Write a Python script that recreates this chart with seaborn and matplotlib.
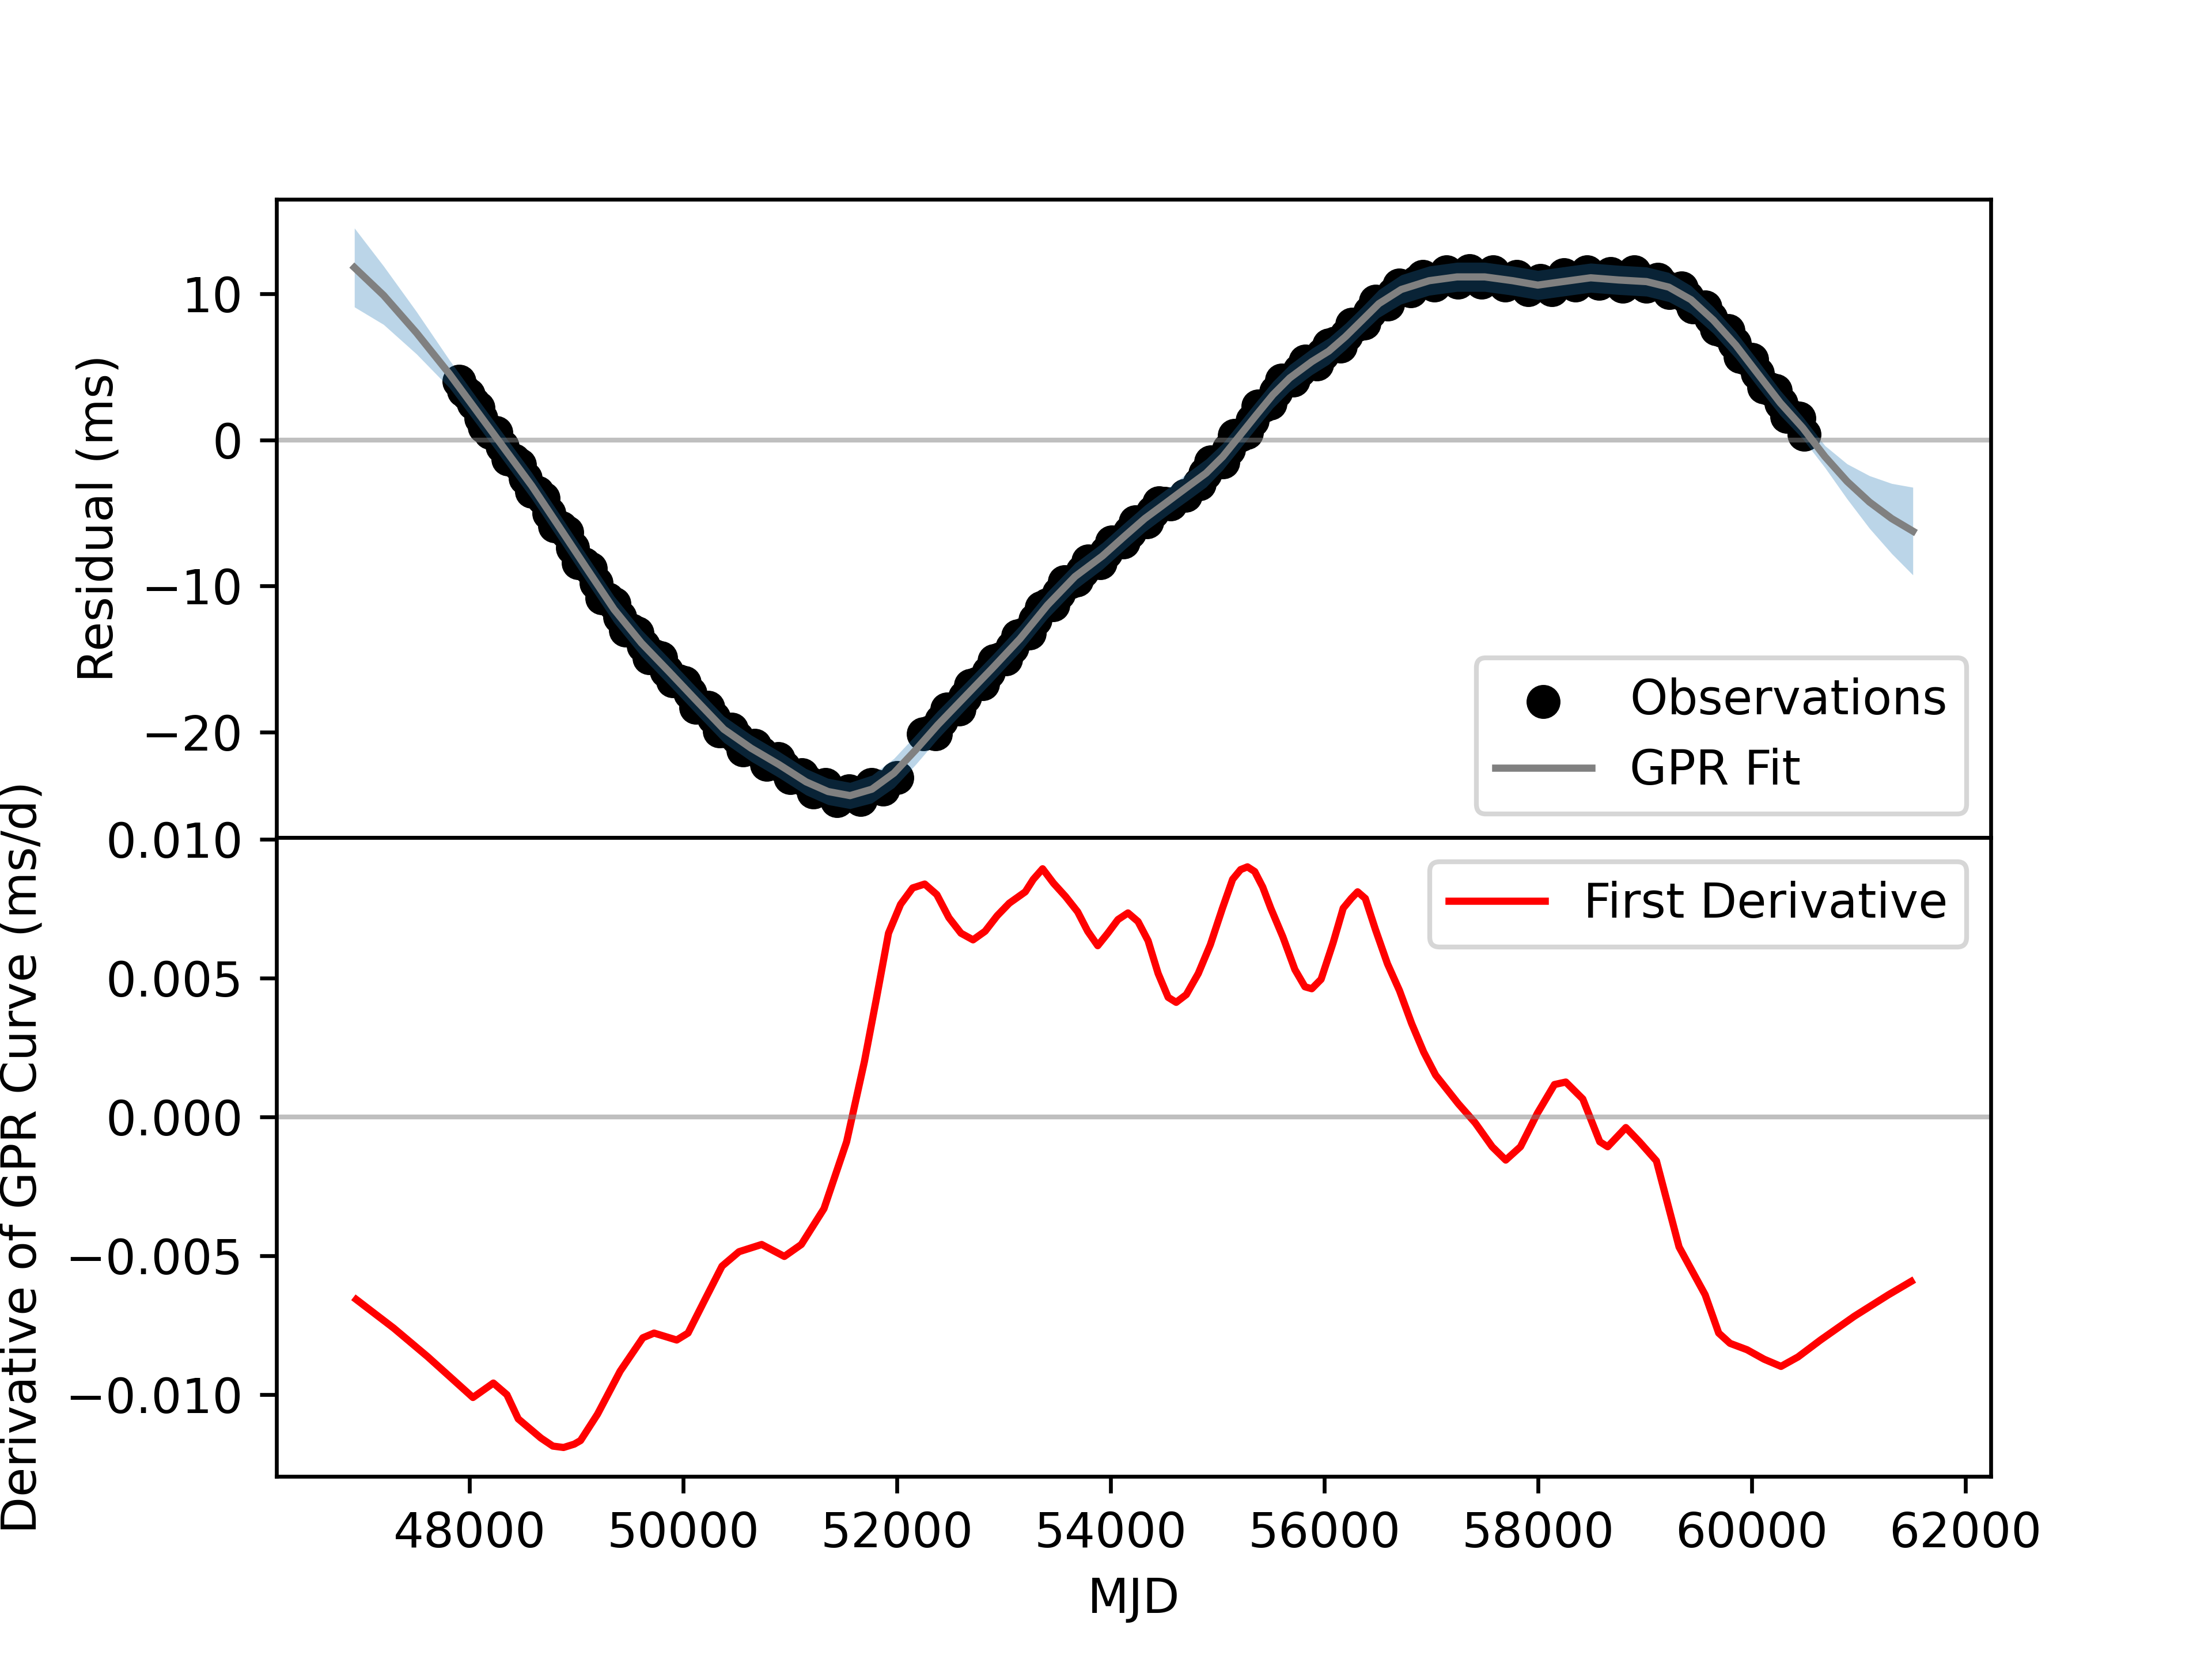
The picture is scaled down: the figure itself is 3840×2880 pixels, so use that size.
import numpy as np
import pandas as pd
import seaborn as sb
import matplotlib
matplotlib.use('Agg')
import matplotlib.pyplot as plt

obs_mjd = [47900, 47990, 48080, 48140, 48250, 48360, 48470, 48580, 48690, 48800,
           48910, 49020, 49130, 49240, 49350, 49460, 49570, 49680, 49790, 49900,
           50010, 50120, 50230, 50340, 50450, 50560, 50670, 50780, 50890, 51000,
           51110, 51220, 51330, 51440, 51550, 51660, 51760, 51870, 52000, 52250,
           52360, 52470, 52580, 52690, 52800, 52910, 53020, 53130, 53240, 53350,
           53460, 53570, 53680, 53790, 53900, 54010, 54120, 54230, 54340, 54450,
           54560, 54700, 54830, 54940, 55050, 55160, 55270, 55380, 55490, 55600,
           55710, 55820, 55930, 56040, 56150, 56260, 56370, 56480, 56590, 56700,
           56810, 56920, 57030, 57140, 57250, 57360, 57470, 57580, 57690, 57800,
           57910, 58020, 58130, 58240, 58350, 58460, 58570, 58680, 58790, 58900,
           59010, 59120, 59230, 59340, 59450, 59560, 59670, 59780, 59890, 60000,
           60110, 60220, 60330, 60440, 60490]
obs_res = [4.0, 3.1, 2.2, 0.9, 0.5, -1.3, -1.7, -3.5, -4.0, -5.9,
           -6.3, -8.4, -8.8, -10.8, -11.2, -13.0, -13.2, -14.9, -14.9, -16.5,
           -16.6, -18.3, -18.3, -19.9, -19.8, -21.2, -20.9, -22.2, -21.8, -23.1,
           -22.9, -24.1, -23.6, -24.7, -24.0, -24.6, -23.6, -23.9, -23.1, -20.1,
           -20.1, -18.4, -18.4, -16.8, -16.7, -15.1, -15.0, -13.4, -13.2, -11.5,
           -11.3, -9.7, -9.6, -8.3, -8.4, -7.0, -7.0, -5.6, -5.6, -4.3,
           -4.4, -3.8, -3.0, -1.5, -1.5, 0.3, 0.5, 2.3, 2.5, 4.1,
           4.1, 5.4, 5.2, 6.5, 6.4, 7.9, 8.0, 9.5, 9.3, 10.6,
           10.2, 11.2, 10.6, 11.5, 10.8, 11.6, 10.8, 11.5, 10.6, 11.2,
           10.3, 10.9, 10.3, 11.3, 10.6, 11.5, 10.7, 11.4, 10.5, 11.5,
           10.5, 11.0, 10.1, 10.4, 9.1, 9.1, 7.6, 7.5, 5.7, 5.5,
           3.6, 3.4, 1.6, 1.5, 0.4]

# more observations in between (dense sampling)
obs_mjd_b = [47945, 48035, 48110, 48195, 48305, 48415, 48525, 48635, 48745, 48855,
             48965, 49075, 49185, 49295, 49405, 49515, 49625, 49735, 49845, 49955,
             50065, 50175, 50285, 50395, 50505, 50615, 50725, 50835, 50945, 51055,
             51165, 51275, 51385, 51495, 51605, 51710, 51815, 52305, 52415, 52525,
             52635, 52745, 52855, 52965, 53075, 53185, 53295, 53405, 53515, 53625,
             53735, 53845, 53955, 54065, 54175, 54285, 54395, 54505, 54885, 54995,
             55105, 55215, 55325, 55435, 55545, 55655, 55765, 55875, 55985, 56095,
             56205, 56315, 56425, 56535, 56645, 56755, 56865, 56975, 57085, 57195,
             57305, 57415, 57525, 57635, 57745, 57855, 57965, 58075, 58185, 58295,
             58405, 58515, 58625, 58735, 58845, 58955, 59065, 59175, 59285, 59395,
             59505, 59615, 59725, 59835, 59945, 60055, 60165, 60275, 60385]
obs_res_b = [3.4, 2.5, 1.5, 0.5, -0.45, -1.4, -2.6, -3.6, -5.0, -6.0,
             -7.4, -8.5, -9.8, -10.9, -12.1, -13.0, -14.1, -14.8, -15.8, -16.5,
             -17.3, -18.3, -19.0, -19.9, -20.4, -21.0, -21.4, -22.0, -22.4, -23.0,
             -23.4, -23.8, -24.1, -24.3, -24.3, -24.0, -23.7, -20.0, -19.2, -18.4,
             -17.6, -16.7, -15.9, -15.0, -14.2, -13.3, -12.3, -11.3, -10.5, -9.7,
             -9.0, -8.4, -7.7, -7.0, -6.3, -5.6, -4.95, -4.35, -2.3, -1.55,
             -0.65, 0.35, 1.35, 2.35, 3.3, 4.1, 4.75, 5.3, 5.85, 6.6,
             7.15, 7.9, 8.75, 9.45, 10.0, 10.4, 10.85, 10.9, 11.0, 11.15,
             11.15, 11.2, 11.15, 11.0, 10.9, 10.8, 10.6, 10.7, 10.8, 10.95,
             11.05, 11.1, 11.0, 10.95, 10.9, 10.85, 10.75, 10.55, 10.2, 9.75,
             9.1, 8.35, 7.5, 6.6, 5.6, 4.55, 3.5, 2.5, 1.55]

# GPR fit and its 1-sigma band (ms)
gpr_mjd = [46923, 47196, 47503, 47812, 48069, 48325, 48582, 48840, 49096, 49353,
           49609, 49866, 50122, 50380, 50636, 50893, 51150, 51355, 51561, 51766,
           51972, 52177, 52382, 52639, 52896, 53152, 53409, 53666, 53923, 54128,
           54319, 54528, 54737, 54893, 55049, 55206, 55362, 55519, 55675, 55884,
           56041, 56197, 56354, 56510, 56719, 56980, 57241, 57501, 57762, 57997,
           58231, 58492, 58753, 59014, 59223, 59431, 59640, 59849, 60057, 60266,
           60475, 60684, 60892, 61101, 61309, 61507]
gpr_res = [11.8, 9.9, 7.34, 4.52, 1.97, -0.58, -3.13, -5.96, -8.79, -11.6,
           -13.9, -15.85, -17.83, -19.8, -21.1, -22.2, -23.4, -24.06, -24.34, -23.9,
           -22.8, -21.2, -19.5, -17.55, -15.6, -13.6, -11.3, -9.35, -7.94, -6.6,
           -5.38, -4.25, -3.11, -2.27, -1.14, 0.28, 1.7, 3.1, 4.24, 5.37,
           6.08, 7.07, 8.2, 9.33, 10.3, 10.9, 11.16, 11.16, 10.9, 10.6,
           10.84, 11.1, 10.95, 10.84, 10.46, 9.6, 8.2, 6.5, 4.52, 2.54,
           0.84, -1.14, -2.84, -4.25, -5.38, -6.24]
gpr_sig = [2.7, 2.0, 1.45, 0.95, 0.9, 0.9, 0.9, 0.9, 0.9, 0.9,
           0.9, 0.9, 0.9, 0.9, 0.9, 0.9, 0.9, 0.9, 0.9, 0.95,
           1.0, 1.0, 0.95, 0.9, 0.9, 0.9, 0.9, 0.9, 0.9, 0.9,
           0.9, 0.9, 0.95, 0.95, 0.9, 0.9, 0.9, 0.9, 0.9, 0.9,
           0.9, 0.9, 0.9, 0.95, 1.0, 1.0, 1.0, 1.0, 1.0, 1.0,
           1.0, 1.0, 1.0, 1.0, 1.0, 0.95, 0.9, 0.9, 0.9, 0.85,
           0.75, 0.75, 1.2, 1.8, 2.4, 3.0]

# first derivative of the GPR curve (ms/d)
der_mjd = [46940, 47290, 47608, 48032, 48223, 48350, 48456, 48668, 48780, 48880,
           48980, 49039, 49198, 49410, 49622, 49727, 49939, 50045, 50204, 50363,
           50522, 50734, 50946, 51105, 51317, 51529, 51695,
           51808, 51921, 52034, 52147, 52260, 52373, 52486, 52599, 52712, 52825,
           52938, 53051, 53201, 53276, 53363, 53465, 53578, 53691, 53785, 53879,
           53973, 54068, 54162, 54256, 54350, 54444, 54538, 54613, 54708, 54820,
           54933, 55046, 55141, 55216, 55280, 55348, 55423, 55498, 55611, 55724,
           55818, 55882, 55969, 56082, 56176, 56251, 56311, 56383, 56477, 56590,
           56703, 56816, 56929,
           57041, 57253, 57411, 57570, 57697, 57835, 57994, 58153, 58259, 58418,
           58577, 58651, 58821, 58948, 59107, 59319, 59563, 59690, 59796, 59955,
           60114, 60273, 60432, 60643, 60961, 61279, 61491]
der_val = [-0.00657, -0.0076, -0.00863, -0.0101, -0.00958, -0.0100, -0.01087, -0.01156, -0.01185, -0.0119,
           -0.01178, -0.01165, -0.0107, -0.00915, -0.00795, -0.00778, -0.00803, -0.00778, -0.00657, -0.00537,
           -0.00485, -0.00459, -0.00502, -0.00459, -0.0033, -0.00089, 0.00199,
           0.00427, 0.00662, 0.00766, 0.00825, 0.00839, 0.00801, 0.00718, 0.00662, 0.00638, 0.00669,
           0.00725, 0.0077, 0.00811, 0.00856, 0.00894, 0.00842, 0.00794, 0.00739, 0.00669, 0.00617,
           0.00662, 0.00711, 0.00735, 0.00704, 0.00635, 0.00517, 0.00431, 0.00413, 0.00441, 0.00517,
           0.00621, 0.00752, 0.00856, 0.00891, 0.00901, 0.00884, 0.00828, 0.00752, 0.00649, 0.00531,
           0.00469, 0.00462, 0.00496, 0.00628, 0.00752, 0.00787, 0.00811, 0.00787, 0.00676, 0.00552,
           0.00455, 0.00337, 0.00234,
           0.00151, 0.00048, -0.00021, -0.00107, -0.00155, -0.00107, 0.00014, 0.00117, 0.00126, 0.00065,
           -0.00089, -0.00107, -0.00038, -0.00089, -0.00158, -0.00468, -0.0064, -0.00778, -0.00815, -0.00838,
           -0.00872, -0.00898, -0.00864, -0.00803, -0.00717, -0.0064, -0.00592]

obs = pd.DataFrame({'MJD': obs_mjd + obs_mjd_b, 'Residual': obs_res + obs_res_b})
gpr = pd.DataFrame({'MJD': gpr_mjd, 'Residual': gpr_res, 'Sigma': gpr_sig})
der = pd.DataFrame({'MJD': der_mjd, 'Deriv': der_val})

fig, (ax1, ax2) = plt.subplots(2, 1, sharex=True, figsize=(6.4, 4.8))
plt.subplots_adjust(hspace=0)

#top panel - residuals with GPR fit
sb.scatterplot(x='MJD', y='Residual', data=obs, color='black', s=50,
               linewidth=0, label='Observations', ax=ax1)
ax1.fill_between(gpr['MJD'], gpr['Residual'] - gpr['Sigma'],
                 gpr['Residual'] + gpr['Sigma'], color='tab:blue', alpha=0.3,
                 linewidth=0)
sb.lineplot(x='MJD', y='Residual', data=gpr, color='gray', linewidth=1.5,
            label='GPR Fit', ax=ax1)
ax1.axhline(0, color='gray', alpha=0.5, linewidth=1)
ax1.set_ylabel('Residual (ms)')
ax1.set_xlabel('')
ax1.legend(loc='lower right')

#bottom panel - derivative
sb.lineplot(x='MJD', y='Deriv', data=der, color='red', linewidth=1.5,
            label='First Derivative', ax=ax2)
ax2.axhline(0, color='gray', alpha=0.5, linewidth=1)
ax2.set_ylabel('Derivative of GPR Curve (ms/d)')
ax2.set_xlabel('MJD')
ax2.legend(loc='upper right')

plt.savefig('out.png', dpi=600)
